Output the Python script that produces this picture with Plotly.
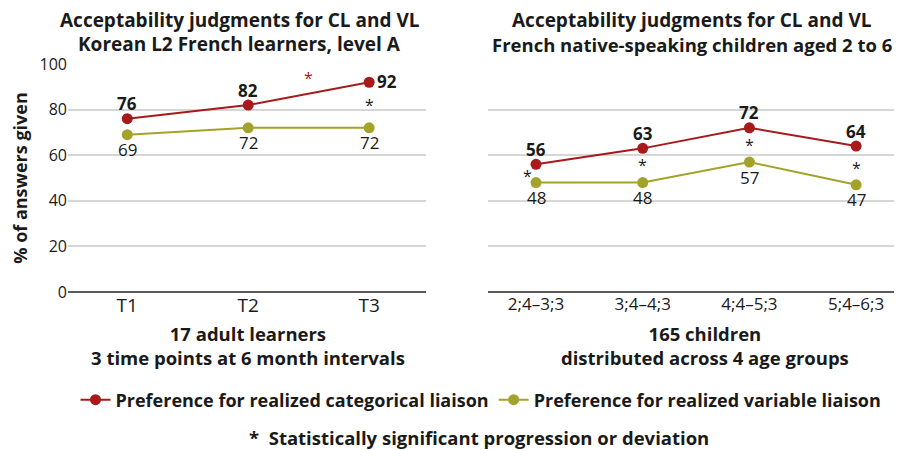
import plotly.graph_objects as go

# ---- data ----
left_cats = ["T1", "T2", "T3"]
left_cl = [76, 82, 92]
left_vl = [69, 72, 72]

right_cats = ["2;4\u20133;3", "3;4\u20134;3", "4;4\u20135;3", "5;4\u20136;3"]
right_cl = [56, 63, 72, 64]
right_vl = [48, 48, 57, 47]

y_ticks = [0, 20, 40, 60, 80, 100]

left_title = ["Acceptability judgments for CL and VL", "Korean L2 French learners, level A"]
right_title = ["Acceptability judgments for CL and VL", "French native-speaking children aged 2 to 6"]

# significance asterisks
left_stars_x = [1.5, 2]
left_stars_y = [94, 82]
left_stars_c = ["red", "black"]
right_stars_x = [-0.08, 1, 2, 3]
right_stars_y = [51, 55.5, 64.5, 54.5]

RED = "#a8191c"
OLIVE = "#a3a32a"
FONT = "Open Sans"
TXT = "#1a1a1a"

# page has an 8px body margin: figure is drawn at offset (8, 8)
W, H = 894, 442
def px(x):
    return (x - 8) / W
def py(y):
    return 1 - (y - 8) / H

fig = go.Figure()

def add_series(xref, yref, cats, cl, vl, show):
    fig.add_trace(go.Scatter(
        x=cats, y=cl, xaxis=xref, yaxis=yref, mode="lines+markers",
        line=dict(color=RED, width=2), marker=dict(size=11, color=RED),
        name="Preference for realized categorical liaison", showlegend=show,
        cliponaxis=False))
    fig.add_trace(go.Scatter(
        x=cats, y=vl, xaxis=xref, yaxis=yref, mode="lines+markers",
        line=dict(color=OLIVE, width=2), marker=dict(size=11, color=OLIVE),
        name="Preference for realized variable liaison", showlegend=show,
        cliponaxis=False))

add_series("x", "y", left_cats, left_cl, left_vl, True)
add_series("x2", "y2", right_cats, right_cl, right_vl, False)

annos = []
LBL = 17

def labels(xref, yref, cats, cl, vl, last_right=False):
    for i, (c, a, b) in enumerate(zip(cats, cl, vl)):
        if last_right and i == len(cats) - 1:
            annos.append(dict(x=c, y=a, xref=xref, yref=yref, text=str(a),
                              showarrow=False, xanchor="left", xshift=6, yshift=1,
                              font=dict(family=FONT, size=LBL, color=TXT, weight="bold")))
        else:
            annos.append(dict(x=c, y=a, xref=xref, yref=yref, text=str(a),
                              showarrow=False, yshift=15,
                              font=dict(family=FONT, size=LBL, color=TXT, weight="bold")))
        annos.append(dict(x=c, y=b, xref=xref, yref=yref, text=str(b),
                          showarrow=False, yshift=-15,
                          font=dict(family=FONT, size=LBL, color=TXT)))

labels("x", "y", left_cats, left_cl, left_vl, last_right=True)
labels("x2", "y2", right_cats, right_cl, right_vl)

for sx, sy, sc in zip(left_stars_x, left_stars_y, left_stars_c):
    annos.append(dict(x=sx, y=sy, xref="x", yref="y", text="*", showarrow=False,
                      font=dict(family=FONT, size=16, color=RED if sc == "red" else TXT)))
for sx, sy in zip(right_stars_x, right_stars_y):
    annos.append(dict(x=sx, y=sy, xref="x2", yref="y2", text="*", showarrow=False,
                      font=dict(family=FONT, size=16, color=TXT)))

xt_font = dict(family=FONT, size=18.5, color=TXT, weight="bold")
for line, yy, sz in zip(left_title, [20, 44], [19, 19]):
    annos.append(dict(x=px(240), y=py(yy), xref="paper", yref="paper", xanchor="center",
                      text=line, showarrow=False, yanchor="middle",
                      font=dict(family=FONT, size=sz, color=TXT, weight="bold")))
for line, yy, sz, cx in zip(right_title, [20, 44], [19, 18.5], [692, 692]):
    annos.append(dict(x=px(cx), y=py(yy), xref="paper", yref="paper", xanchor="center",
                      text=line, showarrow=False, yanchor="middle",
                      font=dict(family=FONT, size=sz, color=TXT, weight="bold")))
annos.append(dict(x=px(248), y=py(345), xref="paper", yref="paper", xanchor="center",
                  text="17 adult learners<br>3 time points at 6 month intervals",
                  showarrow=False, font=xt_font, yanchor="middle"))
annos.append(dict(x=px(705), y=py(345), xref="paper", yref="paper", xanchor="center",
                  text="165 children<br>distributed across 4 age groups",
                  showarrow=False, font=xt_font, yanchor="middle"))
annos.append(dict(x=px(479), y=py(437), xref="paper", yref="paper", xanchor="center",
                  text="*  Statistically significant progression or deviation",
                  showarrow=False, font=xt_font, yanchor="middle"))

fig.update_layout(
    width=W, height=H,
    margin=dict(l=0, r=0, t=0, b=0, autoexpand=False),
    plot_bgcolor="white", paper_bgcolor="white",
    font=dict(family=FONT, color=TXT),
    annotations=annos,
    legend=dict(orientation="h", x=px(481), xanchor="center", y=py(400), yanchor="middle",
                font=dict(family=FONT, size=18, color=TXT, weight="bold"),
                tracegroupgap=0),
    xaxis=dict(domain=[px(68), px(426)], showgrid=False, ticks="", automargin=False,
               tickfont=dict(family=FONT, size=19, color=TXT),
               range=[-0.49, 2.47], showline=False, zeroline=False),
    yaxis=dict(domain=[py(292), py(64)], range=[0, 100], tickvals=y_ticks,
               automargin=False,
               showgrid=True, gridcolor="#d6d6d6", gridwidth=1.5, zeroline=True,
               zerolinecolor="#5a5a5a", zerolinewidth=1.5,
               tickfont=dict(family=FONT, size=16, color=TXT), ticks="", ticklen=0,
               title=dict(text="% of answers given", standoff=10,
                          font=dict(family=FONT, size=18, color=TXT, weight="bold"))),
    xaxis2=dict(domain=[px(488), 1], showgrid=False, ticks="", anchor="y2", automargin=False,
                tickfont=dict(family=FONT, size=17, color=TXT),
                range=[-0.45, 3.43], showline=False, zeroline=False),
    yaxis2=dict(domain=[py(292), py(64)], range=[0, 100], tickvals=y_ticks,
                anchor="x2", showticklabels=False, automargin=False,
                showgrid=True, gridcolor="#d6d6d6", gridwidth=1.5, zeroline=True,
                zerolinecolor="#5a5a5a", zerolinewidth=1.5),
)

fig.write_html("out.html")
